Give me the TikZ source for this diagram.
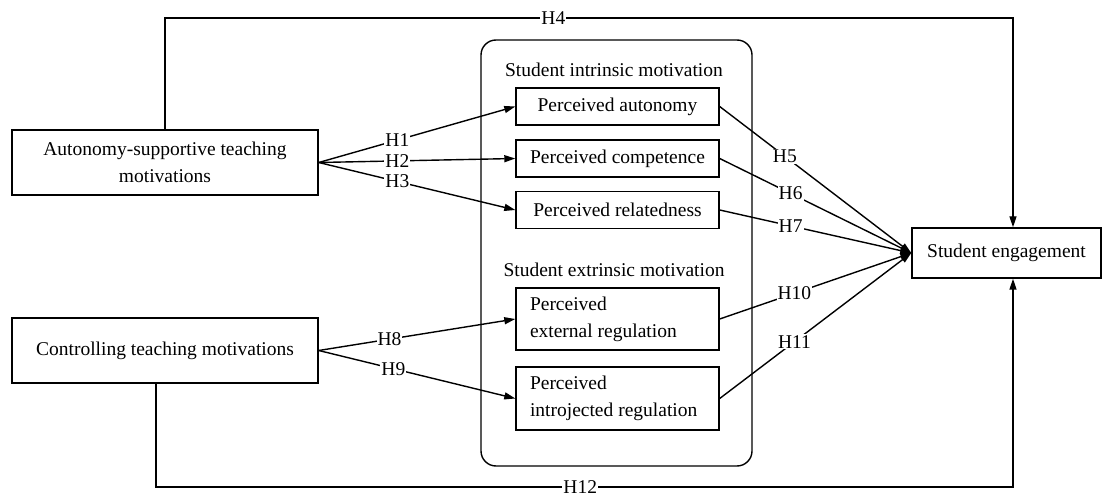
\documentclass[tikz,border=0pt]{standalone}
\usepackage{fontspec}
\setmainfont{Liberation Serif}
\usetikzlibrary{arrows.meta}
\begin{document}
\begin{tikzpicture}[x=1pt,y=-1pt,
  every node/.style={font=\fontsize{19.5}{27}\selectfont},
  box/.style={draw,line width=1.4pt,inner sep=0pt},
  twoline/.style={box,minimum width=203pt,text width=175pt,align=flush left,inner xsep=14pt},
  arr/.style={line width=1.4pt,-{Triangle[length=11pt,width=7pt]}},
  lab/.style={fill=white,inner sep=1pt}]
\useasboundingbox (0,0) rectangle (1104,497);
\fill[white] (0,0) rectangle (1104,497);
% group box
\node[draw,line width=1.4pt,rounded corners=15pt,minimum width=271pt,minimum height=426pt] (G) at (616.5,253) {};
\node (T1) at (614,70) {Student intrinsic motivation};
\node (T2) at (614,270) {Student extrinsic motivation};
% left boxes
\node[box,minimum width=306pt,minimum height=65pt,align=center] (A) at (165,162.5) {Autonomy-supportive teaching\\motivations};
\node[box,minimum width=306pt,minimum height=65pt] (C) at (165,350.5) {Controlling teaching motivations};
% inner boxes
\node[box,minimum width=203pt,minimum height=37pt] (PA) at (617.5,106.5) {Perceived autonomy};
\node[box,minimum width=203pt,minimum height=37pt] (PC) at (617.5,158.5) {Perceived competence};
\node[box,minimum width=203pt,minimum height=37pt] (PR) at (617.5,210) {Perceived relatedness};
\node[twoline,minimum height=62pt] (PE) at (617.5,319) {Perceived\\external regulation};
\node[twoline,minimum height=63pt] (PI) at (617.5,398.5) {Perceived\\introjected regulation};
% outcome
\node[box,minimum width=189pt,minimum height=50pt] (E) at (1006.5,253) {Student engagement};
\coordinate (t2) at (1013,18);
\coordinate (b2) at (1013,487);
% H1-H3
\draw[arr] (A.east) -- node[lab,pos=0.4]{H1} (PA.west);
\draw[arr] (A.east) -- node[lab,pos=0.4]{H2} (PC.west);
\draw[arr] (A.east) -- node[lab,pos=0.4]{H3} (PR.west);
% H8-H9
\draw[arr] (C.east) -- node[lab,pos=0.36]{H8} (PE.west);
\draw[arr] (C.east) -- node[lab,pos=0.38]{H9} (PI.west);
% H5-H11
\draw[arr] (PA.east) -- node[lab,pos=0.34]{H5} (E.west);
\draw[arr] (PC.east) -- node[lab,pos=0.37]{H6} (E.west);
\draw[arr] (PR.east) -- node[lab,pos=0.37]{H7} (E.west);
\draw[arr] (PE.east) -- node[lab,pos=0.39]{H10} (E.west);
\draw[arr] (PI.east) -- node[lab,pos=0.39]{H11} (E.west);
% H4
\draw[arr] (A.north) -- (A.north |- t2) -- node[lab,pos=0.458]{H4} (t2) -- (E.north -| t2);
% H12
\draw[arr] ([xshift=-9pt]C.south) -- ([xshift=-9pt]C.south |- b2) -- node[lab,pos=0.495]{H12} (b2) -- (E.south -| b2);
\end{tikzpicture}
\end{document}
